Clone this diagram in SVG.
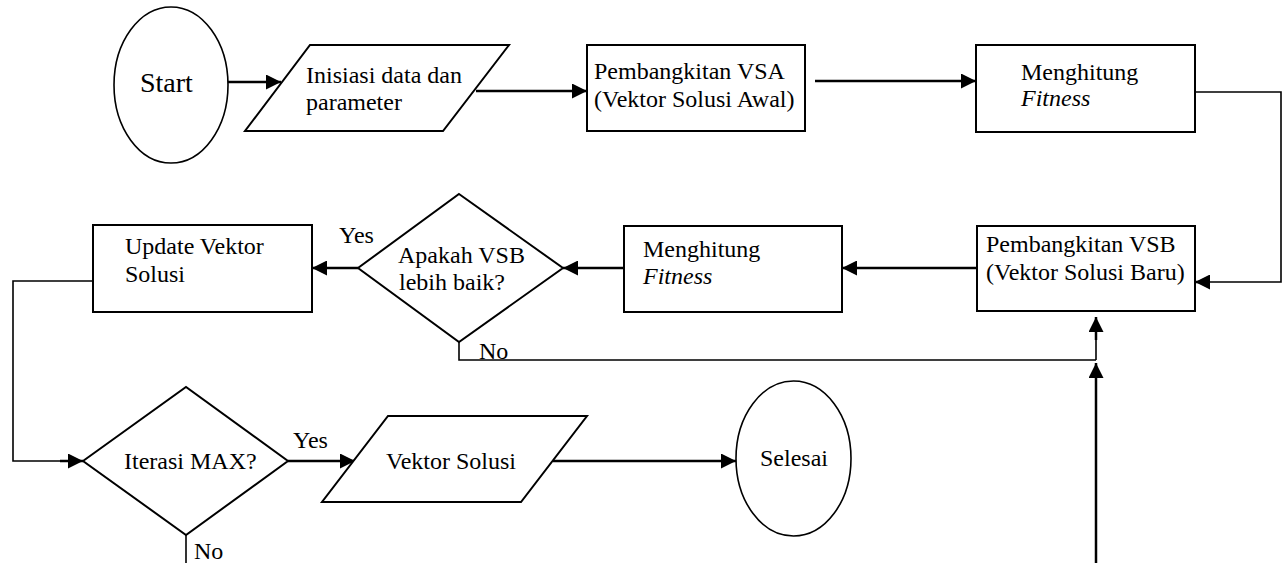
<svg xmlns="http://www.w3.org/2000/svg" width="1288" height="563" viewBox="0 0 1288 563" font-family="Liberation Serif, DejaVu Serif, serif">
<style>
.shape{fill:#fff;stroke:#000;stroke-width:2}
.ell{fill:#fff;stroke:#000;stroke-width:1.6}
.t{font-family:'Liberation Serif','DejaVu Serif',serif;font-size:24px;fill:#000}
.big{font-size:28px}
.it{font-style:italic}
.c{fill:none;stroke:#000;stroke-width:2.5}
.thin{fill:none;stroke:#000;stroke-width:1.6}
</style>
<defs>
<marker id="ah" markerUnits="userSpaceOnUse" markerWidth="16" markerHeight="15" refX="15" refY="7.5" orient="auto">
<path d="M0,0 L15,7.5 L0,15 z" fill="#000"/>
</marker>
</defs>
<rect width="1288" height="563" fill="#fff"/>
<g id="connectors">
<line class="c" x1="228" y1="82" x2="281" y2="82" marker-end="url(#ah)"/>
<line class="c" x1="476" y1="91" x2="587" y2="91" marker-end="url(#ah)"/>
<line class="c" x1="815" y1="81" x2="976" y2="81" marker-end="url(#ah)"/>
<polyline class="thin" points="1195,92 1281,92 1281,282 1205,282"/>
<line class="c" x1="1210" y1="282" x2="1195" y2="282" marker-end="url(#ah)"/>
<line class="c" x1="977" y1="268" x2="842" y2="268" marker-end="url(#ah)"/>
<line class="c" x1="624" y1="268" x2="563" y2="268" marker-end="url(#ah)"/>
<line class="c" x1="358" y1="268" x2="312" y2="268" marker-end="url(#ah)"/>
<polyline class="thin" points="459,342 459,360 1096,360"/>
<line class="thin" x1="1096" y1="360" x2="1096" y2="330"/>
<line class="c" x1="1096" y1="340" x2="1096" y2="317" marker-end="url(#ah)"/>
<line class="c" x1="1096" y1="563" x2="1096" y2="363" marker-end="url(#ah)"/>
<polyline class="thin" points="93,281 13,281 13,461 70,461"/>
<line class="c" x1="60" y1="461" x2="83" y2="461" marker-end="url(#ah)"/>
<line class="c" x1="288" y1="461" x2="355" y2="461" marker-end="url(#ah)"/>
<line class="c" x1="553" y1="461" x2="736" y2="461" marker-end="url(#ah)"/>
<line class="thin" x1="186" y1="535" x2="186" y2="563"/>
</g>
<g id="start">
<ellipse class="ell" cx="171" cy="85" rx="57" ry="78"/>
<text class="t big" x="140" y="92">Start</text>
</g>
<g id="inisiasi">
<polygon class="shape" points="310,45 509,45 443,131 245,131"/>
<text class="t" x="306" y="83">Inisiasi data dan</text>
<text class="t" x="306" y="110">parameter</text>
</g>
<g id="vsa">
<rect class="shape" x="587" y="45" width="218" height="86"/>
<text class="t" x="594" y="79">Pembangkitan VSA</text>
<text class="t" x="594" y="107">(Vektor Solusi Awal)</text>
</g>
<g id="fitness1">
<rect class="shape" x="976" y="45" width="219" height="87"/>
<text class="t" x="1021" y="80">Menghitung</text>
<text class="t it" x="1021" y="106">Fitness</text>
</g>
<g id="vsb">
<rect class="shape" x="977" y="226" width="218" height="85"/>
<text class="t" x="986" y="252">Pembangkitan VSB</text>
<text class="t" x="986" y="280">(Vektor Solusi Baru)</text>
</g>
<g id="fitness2">
<rect class="shape" x="624" y="226" width="218" height="86"/>
<text class="t" x="643" y="257">Menghitung</text>
<text class="t it" x="643" y="284">Fitness</text>
</g>
<g id="cek-vsb">
<polygon class="shape" points="459,194 563,268 459,342 358,268"/>
<text class="t" x="398" y="263">Apakah VSB</text>
<text class="t" x="399" y="290">lebih baik?</text>
<text class="t" x="339" y="243">Yes</text>
<text class="t" x="479" y="359">No</text>
</g>
<g id="update">
<rect class="shape" x="93" y="225" width="219" height="87"/>
<text class="t" x="125" y="254">Update Vektor</text>
<text class="t" x="125" y="282">Solusi</text>
</g>
<g id="iterasi">
<polygon class="shape" points="83,461 186,387 288,461 186,535"/>
<text class="t" x="124" y="469">Iterasi MAX?</text>
<text class="t" x="293" y="448">Yes</text>
<text class="t" x="194" y="559">No</text>
</g>
<g id="vektor-solusi">
<polygon class="shape" points="388,416 587,416 521,502 322,502"/>
<text class="t" x="386" y="469">Vektor Solusi</text>
</g>
<g id="selesai">
<ellipse class="ell" cx="793.5" cy="458.5" rx="57.5" ry="77.5"/>
<text class="t" x="760" y="466">Selesai</text>
</g>
</svg>
